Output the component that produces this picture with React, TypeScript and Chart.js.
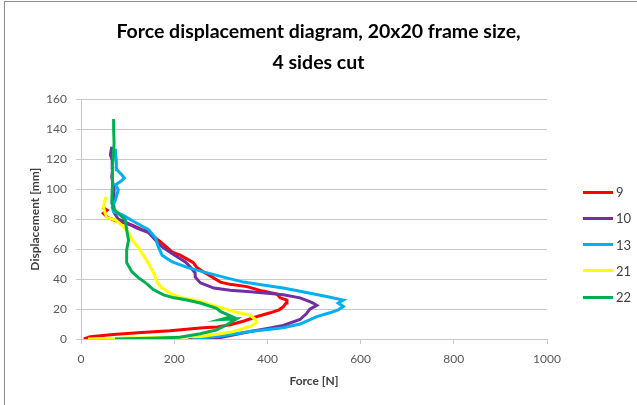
import React, { useEffect, useRef } from "react";
import { Chart, registerables } from "chart.js";

Chart.register(...registerables);

const titleLines = ["Force displacement diagram, 20x20 frame size,", "4 sides cut"];
const xTitle = "Force [N]";
const yTitle = "Displacement [mm]";

const seriesLabels = ["9", "10", "13", "21", "22"];
const seriesColors = ["#ff0000", "#7030a0", "#00b0f0", "#ffff00", "#00b050"];

// [force N, displacement mm]
const series9: [number, number][] = [
  [6, 0], [20, 1.5], [69, 3], [130, 4.3], [191, 5.5], [262, 7.5], [292, 8], [320, 9.5], [350, 12],
  [378, 15], [406, 17.5], [425, 19.5], [434, 21.5], [440, 24], [442, 26], [427, 27.5], [421, 30],
  [390, 32], [356, 35], [320, 36.5], [299, 38], [273, 43], [262, 45], [248, 48], [241, 51], [224, 54],
  [213, 56], [196, 58], [174, 64], [160, 67.5], [142, 72], [131, 73], [110, 76], [95, 77.5], [75, 79],
  [58, 81], [48, 84], [56, 86], [46, 88],
];
const series10: [number, number][] = [
  [230, 0], [300, 1], [363, 5], [400, 7], [434, 9], [470, 13], [484, 17], [491, 20], [506, 22.5],
  [498, 24], [491, 25], [470, 27.5], [434, 29.5], [400, 30.5], [363, 31.5], [320, 32.5], [285, 34],
  [256, 37.5], [245, 41.5], [245, 44], [235, 48], [224, 51.5], [196, 57], [174, 61.5], [160, 66],
  [145, 71], [120, 74], [95, 78], [80, 80], [72, 84], [70, 90], [71, 100], [66, 108], [68, 114],
  [67, 119.5], [63, 123], [66, 128.4],
];
const series13: [number, number][] = [
  [240, 0], [300, 2], [363, 5], [434, 7.5], [470, 10], [506, 15], [534, 17.5], [552, 19.5], [563, 21.7],
  [552, 24], [563, 26], [527, 28.4], [484, 31], [434, 34], [390, 36], [349, 38], [310, 41], [273, 44],
  [231, 47.5], [196, 51.5], [174, 56], [166, 61.5], [160, 67.5], [145, 73], [116, 78], [88, 83],
  [70, 85], [67, 88], [74, 93], [80, 99.5], [74, 103], [84, 105], [93, 107.5], [88, 109.5], [77, 113],
  [76, 118], [75, 122], [74, 127],
];
const series21: [number, number][] = [
  [15, 0], [80, 0.5], [170, 1], [256, 1.7], [300, 3.5], [327, 5], [363, 8.4], [377, 11], [374, 13],
  [363, 16], [327, 18.4], [300, 21], [256, 25], [218, 27.5], [195, 30], [184, 32], [170, 35], [162, 39],
  [156, 44], [149, 48], [138, 54], [123, 61], [110, 66], [102, 71], [88, 76], [74, 79.5], [56, 81],
  [52, 84], [48, 88], [52, 93], [54, 95],
];
const series22: [number, number][] = [
  [73, 0], [150, 0.5], [212, 1.2], [256, 3.5], [290, 6], [313, 9.5], [334, 13.5], [300, 13], [324, 15],
  [299, 18.4], [291, 20.5], [256, 24], [227, 26], [200, 27.5], [177, 29.5], [155, 33], [141, 37],
  [123, 41], [109, 45], [98, 51], [98, 59.5], [102, 66], [98, 73], [95, 79.5], [80, 84], [70, 87],
  [66, 91], [67, 100], [67, 108], [68, 115], [69, 120], [71, 131], [70, 140], [70, 147],
];

const allSeries = [series9, series10, series13, series21, series22];

const xMin = 0, xMax = 1000, xStep = 200;
const yMin = 0, yMax = 160, yStep = 20;

export default function App() {
  const canvasRef = useRef<HTMLCanvasElement | null>(null);

  useEffect(() => {
    if (!canvasRef.current) return;
    const gridColor = "#c8c8c8";
    const chart = new Chart(canvasRef.current, {
      type: "scatter",
      data: {
        datasets: allSeries.map((s, i) => ({
          label: seriesLabels[i],
          data: s.map(([x, y]) => ({ x, y })),
          borderColor: seriesColors[i],
          backgroundColor: seriesColors[i],
          borderWidth: 3,
          showLine: true,
          pointRadius: 0,
          tension: 0,
          order: allSeries.length - 1 - i,
        })),
      },
      options: {
        responsive: false,
        animation: false,
        devicePixelRatio: 1,
        layout: { padding: 0 },
        plugins: {
          legend: { display: false },
          tooltip: { enabled: false },
          title: {
            display: true,
            text: titleLines,
            color: "#000000",
            font: { family: "Lato", size: 19.5, weight: "bold", lineHeight: 1.55 },
            padding: { top: 17, bottom: 22 },
          },
        },
        scales: {
          x: {
            type: "linear",
            min: xMin,
            max: xMax,
            ticks: {
              stepSize: xStep,
              color: "#595959",
              font: { family: "Lato", size: 12 },
              padding: 8,
              callback: (v: any) => String(v),
            },
            grid: { drawOnChartArea: false, drawTicks: true, tickLength: 5, color: gridColor },
            border: { display: true, color: gridColor },
            title: {
              display: true,
              text: xTitle,
              color: "#404040",
              font: { family: "Lato", size: 12, weight: "bold" },
              padding: { top: 0, bottom: 17 },
            },
            afterFit: (s: any) => { s.height = 66; },
          },
          y: {
            type: "linear",
            min: yMin,
            max: yMax,
            ticks: {
              stepSize: yStep,
              color: "#595959",
              font: { family: "Lato", size: 12 },
              padding: 9,
              callback: (v: any) => String(v),
            },
            grid: { drawOnChartArea: true, drawTicks: true, tickLength: 5, color: gridColor },
            border: { display: true, color: gridColor },
            title: {
              display: true,
              text: yTitle,
              color: "#404040",
              font: { family: "Lato", size: 12, weight: "bold" },
              padding: { top: 28, bottom: 0 },
            },
            afterFit: (s: any) => { s.width = 81; },
          },
          spacer: {
            type: "linear",
            position: "right",
            display: true,
            grid: { display: false },
            ticks: { display: false },
            border: { display: false },
            afterFit: (s: any) => { s.width = 90; },
          },
        },
      },
    } as any);
    return () => chart.destroy();
  }, []);

  return (
    <div style={{ position: "fixed", left: 0, top: 0, width: 637, height: 405, overflow: "hidden", background: "#ffffff" }}>
      <div style={{ position: "absolute", left: 4, top: 1, width: 700, height: 500, border: "1px solid #8c8c8c", pointerEvents: "none" }} />
      <canvas ref={canvasRef} width={637} height={405} style={{ position: "absolute", left: 0, top: 0, width: 637, height: 405 }} />
      {seriesLabels.map((lab, i) => (
        <div key={lab} style={{ position: "absolute", left: 583, top: 192 + i * 26.3 - 9, height: 18, display: "flex", alignItems: "center" }}>
          <div style={{ width: 30, height: 3, background: seriesColors[i] }} />
          <span style={{ marginLeft: 3, fontFamily: "Lato", fontSize: 13, color: "#404040", lineHeight: "18px" }}>{lab}</span>
        </div>
      ))}
    </div>
  );
}
